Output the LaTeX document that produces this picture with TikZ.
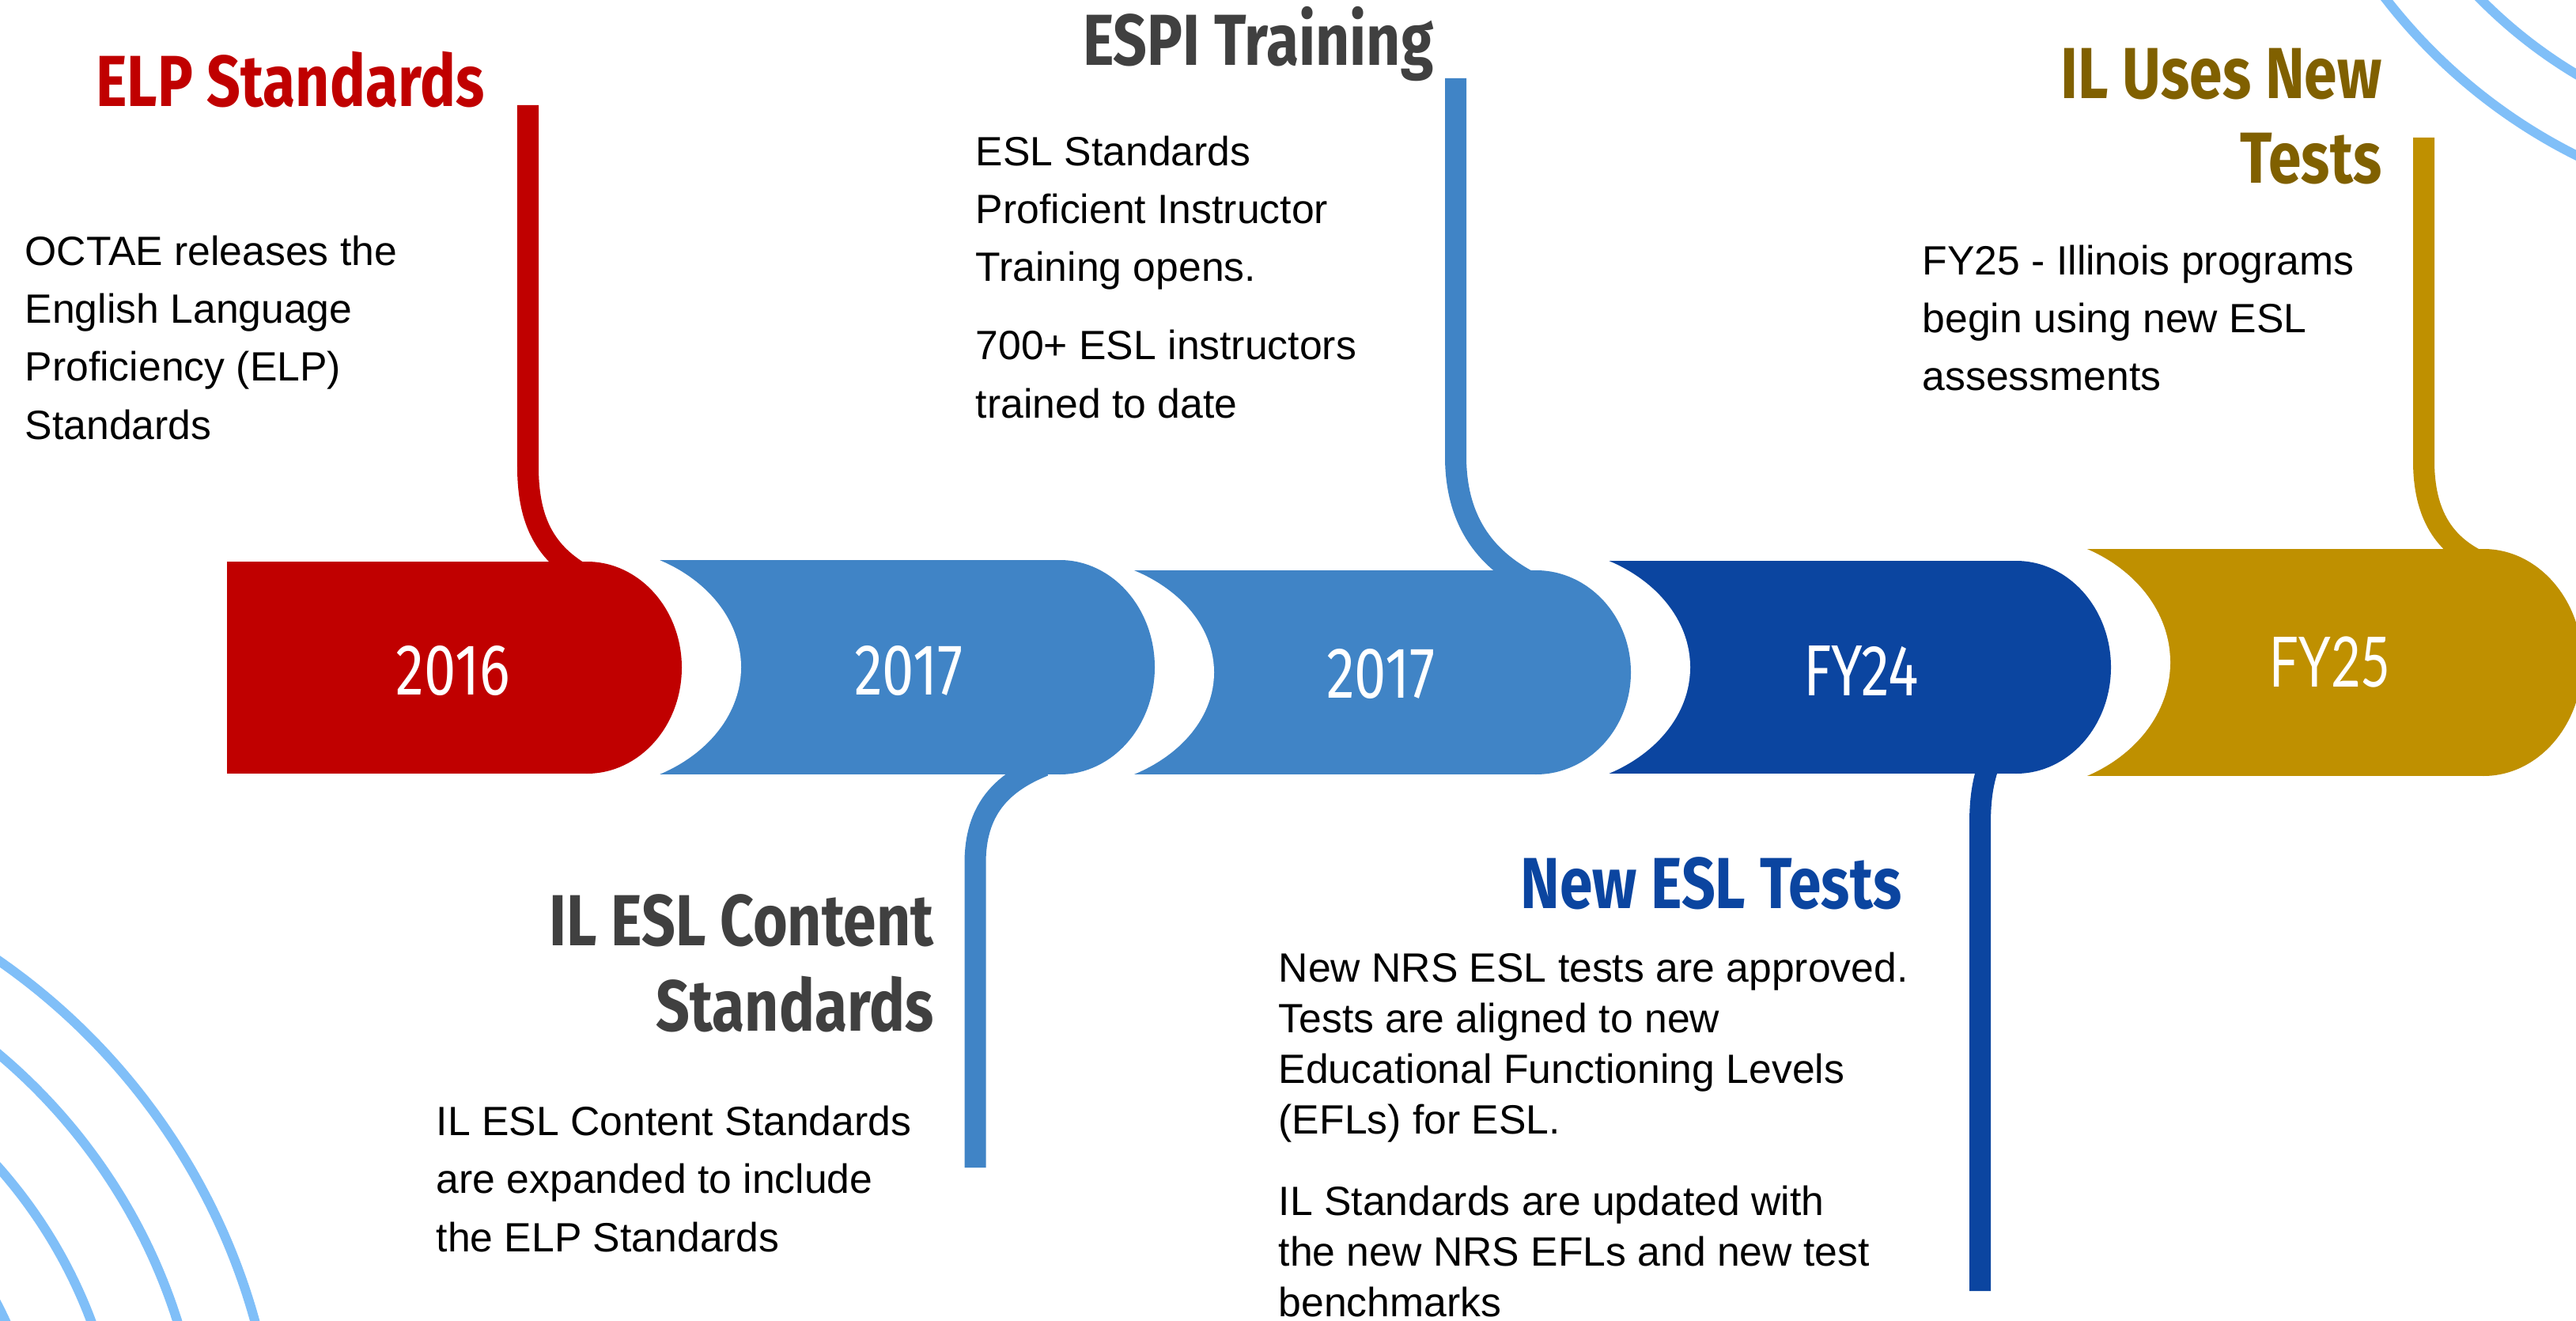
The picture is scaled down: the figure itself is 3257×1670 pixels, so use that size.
\documentclass[tikz,border=0pt]{standalone}
\usepackage{fontspec}
\setmainfont{Liberation Sans}
\newfontfamily\headfont[FakeStretch=0.82]{Fira Sans}
\newfontfamily\yearfont[FakeStretch=0.79]{Fira Sans}
\newfontfamily\fyfont[FakeStretch=0.74]{Lato}
\usepackage{tikz}

\definecolor{elpred}{HTML}{C00000}
\definecolor{eslblue}{HTML}{4084C6}
\definecolor{nrsblue}{HTML}{0B45A0}
\definecolor{ilgold}{HTML}{BF9000}
\definecolor{ilbrown}{HTML}{806000}
\definecolor{headgray}{HTML}{404040}
\definecolor{ringblue}{HTML}{80BFF8}

% banner: colour, x start : x of bulge centre, top : bottom, bulge radius
\def\bannerbody[#1](#2:#3)(#4:#5)(#6){\fill[#1] (#2,#4) rectangle (#3,#5);
	\fill[#1] (#3,{(#4+#5)/2}) ellipse [x radius=#6, y radius={(#5-#4)/2}];}
% white gap between two banners: x of bulge centre, top : bottom of next banner
\def\bannergap(#1)(#2:#3){\fill[white] (#1,{(#2+#3)/2}) ellipse [x radius=195, y radius={(#3-#2)/2+18}];}

\tikzset{
	heading/.style={anchor=base east, align=right, inner sep=0pt, font=\headfont\bfseries\fontsize{26}{30.6}\selectfont},
	body/.style={anchor=base west, align=left, inner sep=0pt, font=\fontsize{14.7}{20.8}\selectfont},
	year/.style={inner sep=0pt, text=white, font=\yearfont\fontsize{26}{26}\selectfont},
	stem/.style={line width=0.27cm},
	ring/.style={draw=ringblue, line width=0.12cm},
}

\begin{document}
\begin{tikzpicture}[x=0.01cm, y=-0.01cm]
			%%%%% START %%%%%
			\useasboundingbox (0,0) rectangle (3257,1670);
			\clip (0,0) rectangle (3257,1670);
			
			% rings in the corners
			\foreach \r in {525,625,728,822}
				\draw[ring] (-470,1890) circle (\r);
			\foreach \r in {610,700}
				\draw[ring] (3570,-430) circle (\r);
			
			% banners, drawn from right to left
			\bannerbody[ilgold](2549:3140)(694:981)(125)
			\bannergap(2549)(694:981)
			\bannerbody[nrsblue](1942:2549)(709:978)(120)
			\bannergap(1942)(709:978)
			\bannerbody[eslblue](1340:1942)(721:979)(120)
			\bannergap(1340)(721:979)
			\bannerbody[eslblue](742:1340)(708:979)(120)
			\bannergap(742)(708:979)
			\bannerbody[elpred](287:742)(710:978)(120)
			
			% stems
			\draw[stem, elpred] (667.5,133) -- (667.5,590) .. controls (667.5,660) and (690,700) .. (740,728);
			\draw[stem, eslblue] (1233,1476) -- (1233,1091) .. controls (1233,1025) and (1265,990) .. (1320,968);
			\draw[stem, eslblue] (1840.5,99) -- (1840.5,577) .. controls (1840.5,655) and (1875,705) .. (1935,736);
			\draw[stem, nrsblue] (2503.5,1632) -- (2503.5,1042) .. controls (2503.5,1005) and (2508,985) .. (2516,962);
			\draw[stem, ilgold] (3064.5,174) -- (3064.5,583) .. controls (3064.5,650) and (3090,690) .. (3140,712);
			
			% years
			\node[year] (y2016) at (573,848) {2016};
			\node[year] (y2017a) at (1149,848) {2017};
			\node[year] (y2017b) at (1746,852) {2017};
			\node[year] (fy24) at (2353,848) {FY24};
			\node[year, font=\fyfont\fontsize{25}{25}\selectfont] (fy25) at (2946,837) {FY25};
			
			% headings (placed at the baseline of their last line)
			\node[heading, elpred] (elphead) at (613,135) {ELP Standards};
			\node[heading, headgray] (espihead) at (1813,83) {ESPI Training};
			\node[heading, ilbrown] (ilhead) at (3012,232) {IL Uses New\\Tests};
			\node[heading, headgray] (contenthead) at (1181,1303) {IL ESL Content\\Standards};
			\node[heading, nrsblue] (testhead) at (2405,1148) {New ESL Tests};
			
			% texts (placed at the baseline of their last line)
			\node[body] (elptext) at (31,555) {OCTAE releases the\\English Language\\Proficiency (ELP)\\Standards};
			\node[body] (espitext) at (1233,528) {ESL Standards\\Proficient Instructor\\Training opens.\\[7.5pt]700+ ESL instructors\\trained to date};
			\node[body] (iltext) at (2430,494) {FY25 - Illinois programs\\begin using new ESL\\assessments};
			\node[body] (contenttext) at (551,1582) {IL ESL Content Standards\\are expanded to include\\the ELP Standards};
			\node[body, font=\fontsize{14.7}{18.2}\selectfont] (testtext) at (1616,1664) {New NRS ESL tests are approved.\\Tests are aligned to new\\Educational Functioning Levels\\(EFLs) for ESL.\\[11pt]IL Standards are updated with\\the new NRS EFLs and new test\\benchmarks};
			
			%%%%% END %%%%%
\end{tikzpicture}
\end{document}
